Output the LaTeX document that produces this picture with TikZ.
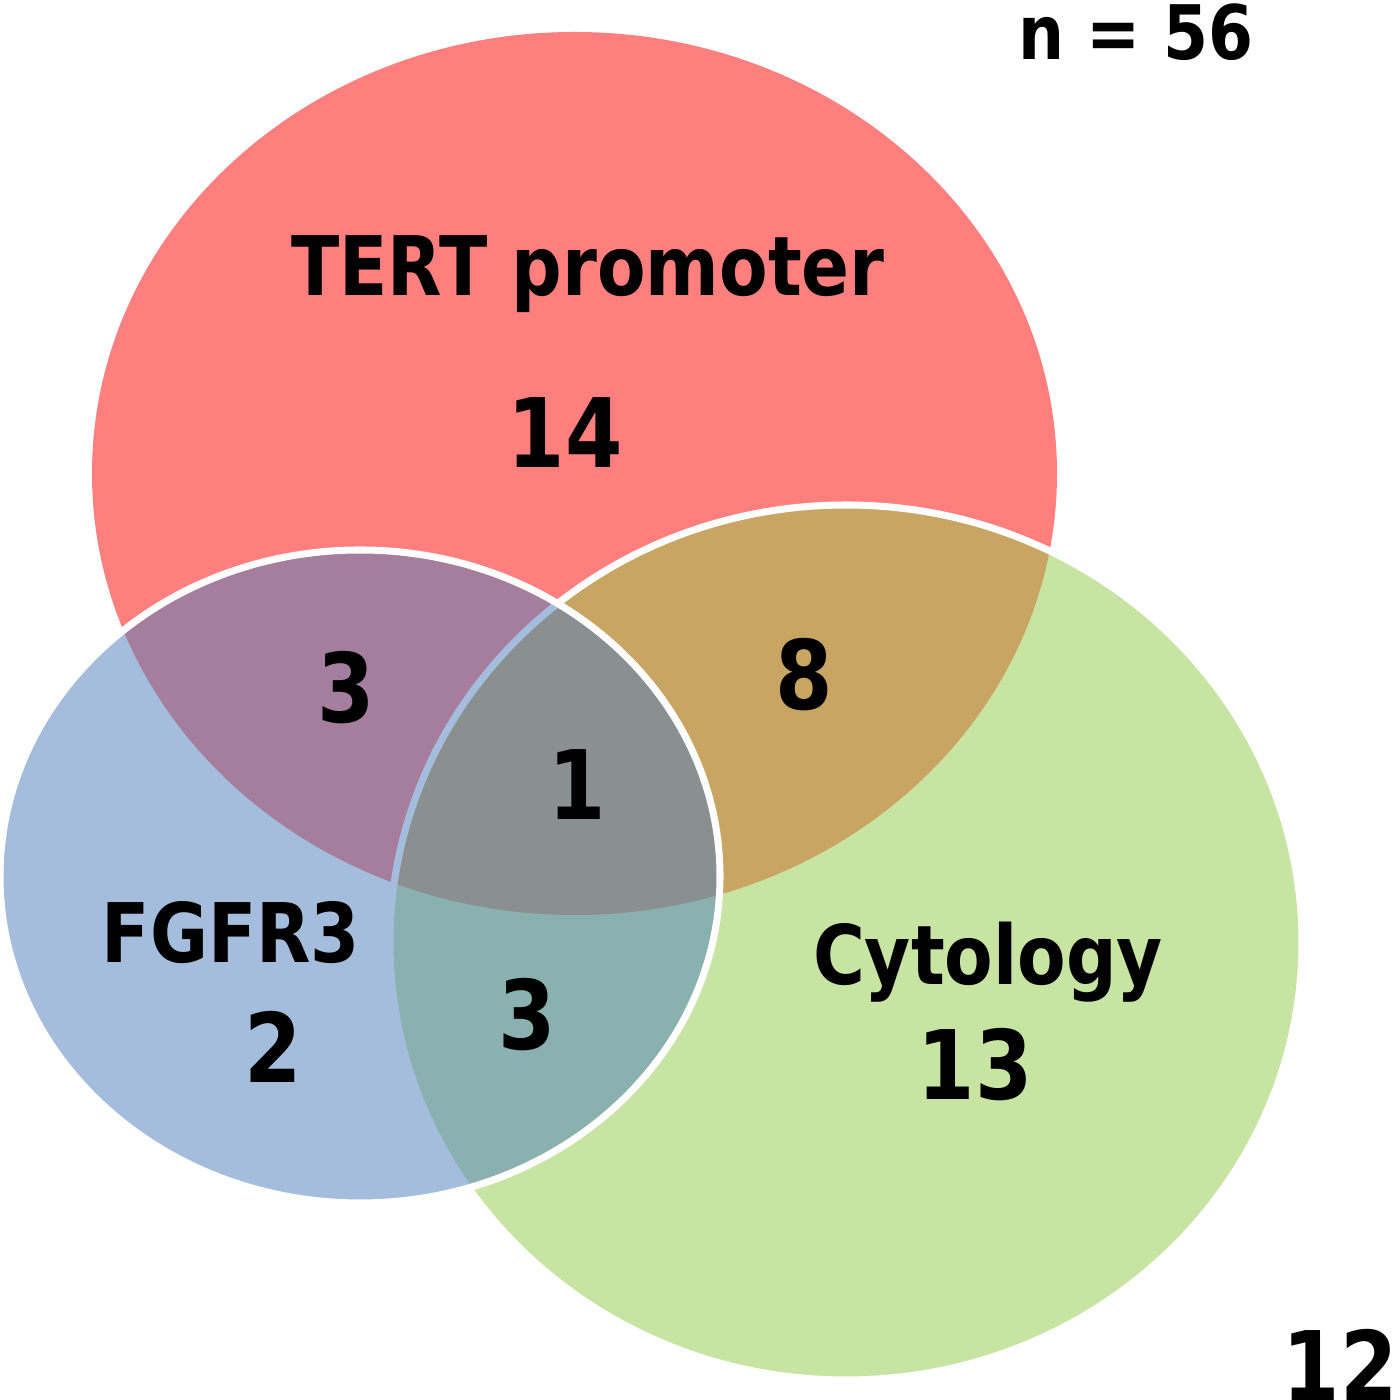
\documentclass[tikz,border=0pt]{standalone}
\usepackage{fontspec}
\newfontfamily\vennfont{DejaVu Sans}[FakeStretch=0.86]
\usepackage{xcolor}
\usepackage{tikz}
\definecolor{tert}{HTML}{FF7F7F}
\definecolor{cyto}{HTML}{93CB49}
\definecolor{fgfr}{HTML}{4D7DBB}
\tikzset{
  setshape/.style={fill opacity=0.5, draw=white, line width=2pt},
  setname/.style={font=\vennfont\bfseries\fontsize{23.4}{28}\selectfont, anchor=base, inner sep=0pt},
  countlabel/.style={font=\vennfont\bfseries\fontsize{27.3}{32}\selectfont, anchor=base, inner sep=0pt},
  totallabel/.style={font=\vennfont\bfseries\fontsize{21.4}{26}\selectfont, anchor=base, inner sep=0pt}
}

\begin{document}
\begin{tikzpicture}[x=1cm,y=1cm]
\useasboundingbox (0,0) rectangle (13.94,14.00);
\fill[white] (0,0) rectangle (13.94,14.00);

\fill[tert] (5.745,9.265) ellipse [x radius=4.825, y radius=4.415];
\filldraw[setshape, fill=cyto] (8.46,4.575) ellipse [x radius=4.56, y radius=4.375];
\filldraw[setshape, fill=fgfr] (3.60,5.235) ellipse [x radius=3.60, y radius=3.265];

\node[setname] (tertname) at (5.88,11.04) {TERT promoter};
\node[setname] (fgfrname) at (2.31,4.37) {FGFR3};
\node[setname] (cytoname) at (9.88,4.15) {Cytology};

\node[countlabel] (tertonly) at (5.65,9.32) {14};
\node[countlabel] (tertfgfr) at (3.46,6.77) {3};
\node[countlabel] (tertcyto) at (8.04,6.90) {8};
\node[countlabel] (allthree) at (5.77,5.80) {1};
\node[countlabel] (fgfronly) at (2.73,3.17) {2};
\node[countlabel] (fgfrcyto) at (5.27,3.50) {3};
\node[countlabel] (cytoonly) at (9.75,3.00) {13};
\node[countlabel] (none) at (13.40,0.00) {12};

\node[totallabel] (total) at (11.36,13.40) {n = 56};

\end{tikzpicture}
\end{document}
